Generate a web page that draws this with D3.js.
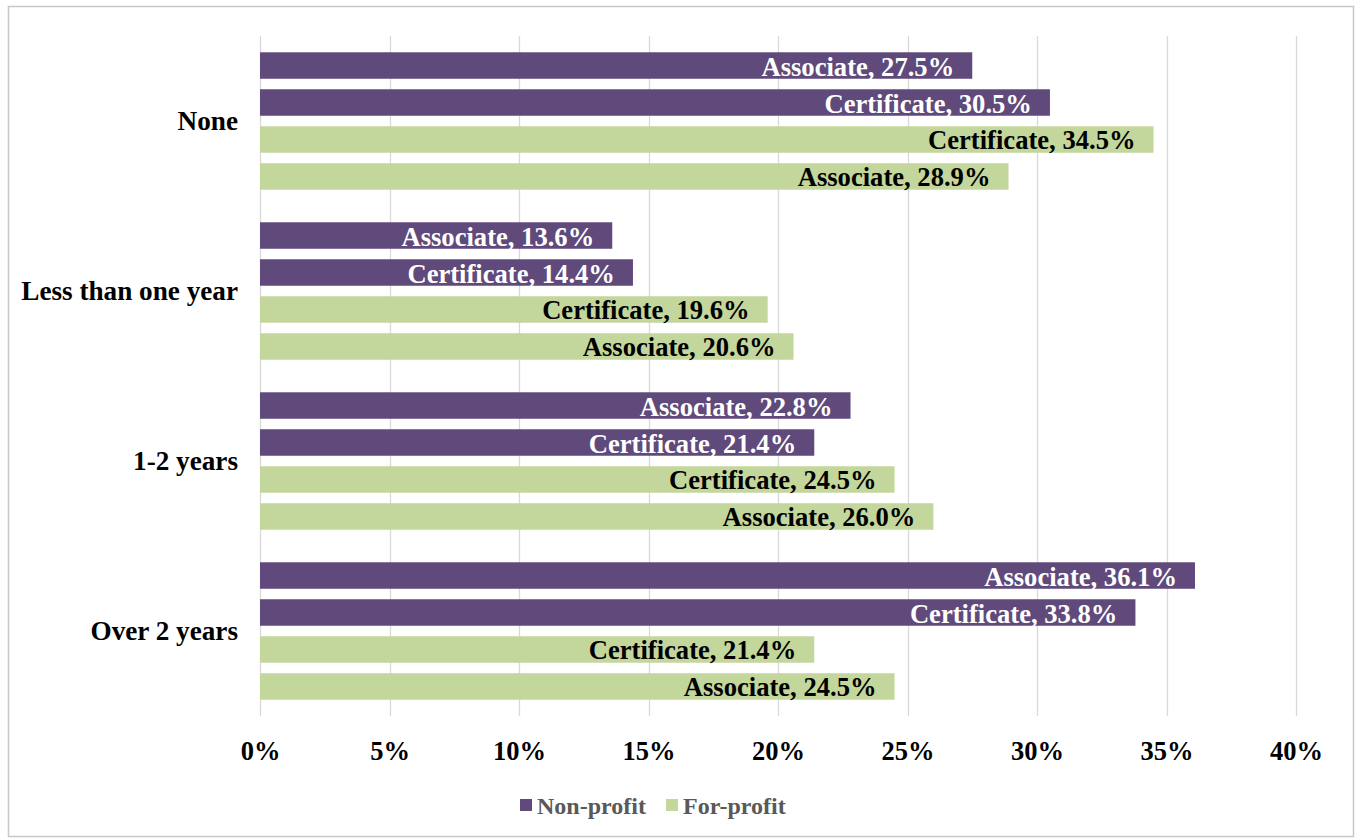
<!DOCTYPE html>
<html><head><meta charset="utf-8">
<script src="https://cdn.jsdelivr.net/npm/d3@7"></script>
<style>html,body{margin:0;padding:0;background:#fff;}svg{display:block;}</style>
</head><body>
<svg id="chart" width="1359" height="838"></svg>
<script>
const categories = ["None", "Less than one year", "1-2 years", "Over 2 years"];
const barKeys = ["npAssociate", "npCertificate", "fpCertificate", "fpAssociate"];
const barNames = ["Associate", "Certificate", "Certificate", "Associate"];
const barSector = ["Non-profit", "Non-profit", "For-profit", "For-profit"];
const nonProfitAssociate = [27.5, 13.6, 22.8, 36.1];
const nonProfitCertificate = [30.5, 14.4, 21.4, 33.8];
const forProfitCertificate = [34.5, 19.6, 24.5, 21.4];
const forProfitAssociate = [28.9, 20.6, 26.0, 24.5];
const legendLabels = ["Non-profit", "For-profit"];
const tickValues = [0, 5, 10, 15, 20, 25, 30, 35, 40];

const seriesValues = [nonProfitAssociate, nonProfitCertificate, forProfitCertificate, forProfitAssociate];
const colors = {"Non-profit": "#604A7B", "For-profit": "#C3D69B"};
const textColors = {"Non-profit": "#ffffff", "For-profit": "#000000"};
const font = "'Liberation Serif','Times New Roman',serif";

const svg = d3.select("#chart");
svg.append("rect").attr("x", 8.5).attr("y", 6.5).attr("width", 1345).attr("height", 830)
  .attr("fill", "#fff").attr("stroke", "#c8c8c8").attr("stroke-width", 1.5);

const plotLeft = 260, plotRight = 1296, plotTop = 36, plotBottom = 716;
const x = d3.scaleLinear().domain([0, 40]).range([plotLeft, plotRight]);
const y0 = d3.scaleBand().domain(categories).range([plotTop, plotBottom]).padding(0);
const y1 = d3.scaleBand().domain(barKeys).range([0, y0.bandwidth()]).paddingInner(0.284).paddingOuter(0.44);

// gridlines
svg.append("g").selectAll("line").data(tickValues).join("line")
  .attr("x1", d => Math.round(x(d)) + 0.5).attr("x2", d => Math.round(x(d)) + 0.5)
  .attr("y1", plotTop).attr("y2", plotBottom)
  .attr("stroke", "#d9d9d9").attr("stroke-width", 1.3);

// x axis labels
const xAxis = d3.axisBottom(x).tickValues(tickValues).tickFormat(d => d + "%").tickSize(0).tickPadding(0);
const gx = svg.append("g").attr("transform", `translate(0, ${plotBottom + 25})`).call(xAxis);
gx.select(".domain").remove();
gx.selectAll("text").attr("font-family", font).attr("font-weight", "bold").attr("font-size", 26.5)
  .attr("fill", "#000").attr("dy", "0.71em");

// category labels
svg.append("g").selectAll("text").data(categories).join("text")
  .attr("x", 238).attr("y", d => y0(d) + y0.bandwidth() / 2)
  .attr("text-anchor", "end").attr("dominant-baseline", "central")
  .attr("font-family", font).attr("font-weight", "bold").attr("font-size", 27.2).attr("fill", "#000")
  .text(d => d);

// bars
const rows = [];
categories.forEach((c, ci) => {
  barKeys.forEach((k, ki) => {
    rows.push({cat: c, key: k, name: barNames[ki], sector: barSector[ki], value: seriesValues[ki][ci]});
  });
});

const gBars = svg.append("g");
gBars.selectAll("rect").data(rows).join("rect")
  .attr("x", x(0)).attr("y", d => y0(d.cat) + y1(d.key))
  .attr("width", d => x(d.value) - x(0)).attr("height", y1.bandwidth())
  .attr("fill", d => colors[d.sector]);

gBars.selectAll("text").data(rows).join("text")
  .attr("x", d => x(d.value) - 18).attr("y", d => y0(d.cat) + y1(d.key) + y1.bandwidth() / 2 + 1)
  .attr("text-anchor", "end").attr("dominant-baseline", "central")
  .attr("font-family", font).attr("font-weight", "bold").attr("font-size", 26.6)
  .attr("fill", d => textColors[d.sector])
  .text(d => `${d.name}, ${d.value.toFixed(1)}%`);

// legend
const legend = svg.append("g");
const legendX = [520, 666];
legendLabels.forEach((l, i) => {
  legend.append("rect").attr("x", legendX[i]).attr("y", 799).attr("width", 12).attr("height", 12)
    .attr("fill", colors[l]);
  legend.append("text").attr("x", legendX[i] + 17).attr("y", 806)
    .attr("dominant-baseline", "central")
    .attr("font-family", font).attr("font-weight", "bold").attr("font-size", 24).attr("fill", "#595959")
    .text(l);
});
</script>
</body></html>
